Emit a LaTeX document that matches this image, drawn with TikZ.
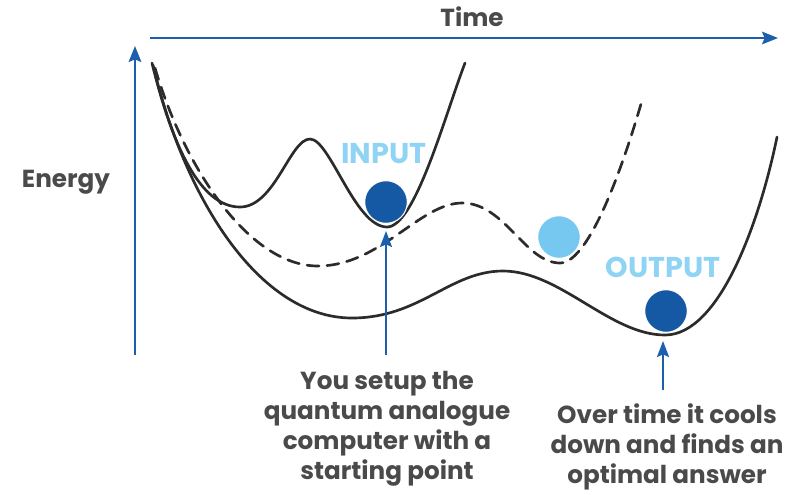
\documentclass[tikz,border=0pt]{standalone}
\usepackage{fontspec}
\setmainfont{Poppins}
\usetikzlibrary{arrows.meta}
\definecolor{axisblue}{HTML}{1B5FAD}
\definecolor{balldark}{HTML}{1558A4}
\definecolor{balllight}{HTML}{77C8F0}
\definecolor{labellight}{HTML}{8FD3F5}
\definecolor{curvegray}{HTML}{2B2B2B}
\definecolor{textgray}{HTML}{4A4A4A}
\begin{document}
\begin{tikzpicture}[x=0.75pt,y=-0.75pt,
  axis/.style={draw=axisblue,line width=1.5pt,-{Stealth[length=12pt,width=9.5pt,inset=2pt]}},
  pointer/.style={draw=axisblue,line width=1.5pt,-{Stealth[length=12pt,width=9pt,inset=2pt]}},
  landscape/.style={draw=curvegray,line width=2pt,line cap=round},
  ball/.style={circle,draw=white,line width=0.8pt,minimum size=32pt,inner sep=0pt},
  title/.style={font=\bfseries\fontsize{18.5}{20}\selectfont,text=textgray},
  tag/.style={font=\bfseries\fontsize{21.5}{22}\selectfont,text=labellight},
  caption/.style={font=\bfseries\fontsize{18.5}{22.4}\selectfont,text=textgray,align=center}]
\useasboundingbox (0,0) rectangle (787,494);

% axes
\coordinate (tstart) at (150,38);
\coordinate (tend) at (778,38);
\coordinate (estart) at (135,355);
\coordinate (eend) at (135,46);
\draw[axis] (tstart) -- (tend);
\draw[axis] (estart) -- (eend);
\node[title] (time) at (472,17) {Time};
\node[title] (energy) at (66,182) {Energy};

% initial double well
\draw[landscape] (152,63) .. controls (172,145) and (200,207) .. (240,207)
  .. controls (275,207) and (290,139) .. (310,139)
  .. controls (330,139) and (355,227) .. (387,227)
  .. controls (415,227) and (445,115) .. (465,63);

% intermediate landscape
\draw[landscape,dashed,dash pattern=on 9pt off 6pt] (155,68) .. controls (185,170) and (250,266) .. (318,266)
  .. controls (380,266) and (420,203) .. (462,203)
  .. controls (505,203) and (525,263) .. (560,263)
  .. controls (590,263) and (625,160) .. (643,97);

% final landscape
\draw[landscape] (153,65) .. controls (185,200) and (260,318) .. (352,318)
  .. controls (420,318) and (450,271) .. (503,271)
  .. controls (560,271) and (610,335) .. (665,335)
  .. controls (720,335) and (760,220) .. (777,137);

% balls
\node[ball,fill=balldark] (inball) at (386,202) {};
\node[ball,fill=balllight] (midball) at (559,237) {};
\node[ball,fill=balldark] (outball) at (666,311) {};
\node[tag] (input) at (384,154) {INPUT};
\node[tag] (output) at (663,267) {OUTPUT};

% captions and pointers
\node[caption] (setup) at (387,429) {You setup the\\quantum analogue\\computer with a\\starting point};
\node[caption] (cool) at (667,447) {Over time it cools\\down and finds an\\optimal answer};
\coordinate (setupfoot) at (386,355);
\coordinate (setuptip) at (386,231);
\coordinate (coolfoot) at (663,390);
\coordinate (cooltip) at (663,341);
\draw[pointer] (setupfoot) -- (setuptip);
\draw[pointer] (coolfoot) -- (cooltip);
\end{tikzpicture}
\end{document}
